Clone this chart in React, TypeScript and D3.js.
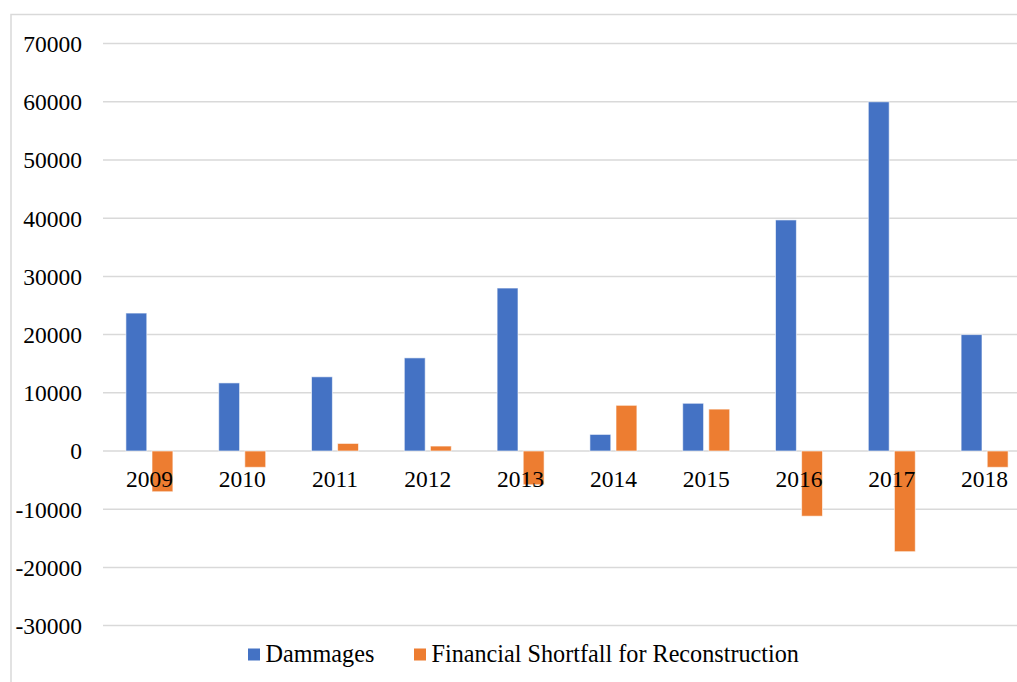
import React, { useEffect, useRef } from 'react';
import * as d3 from 'd3';

// Chart data
const years = ['2009', '2010', '2011', '2012', '2013', '2014', '2015', '2016', '2017', '2018'];
const dammages = [23700, 11700, 12750, 16000, 28000, 2850, 8200, 39700, 60000, 20000];
const shortfall = [-7000, -2800, 1300, 850, -5800, 7850, 7200, -11200, -17300, -2800];
const yTicks = [70000, 60000, 50000, 40000, 30000, 20000, 10000, 0, -10000, -20000, -30000];
const seriesNames = ['Dammages', 'Financial Shortfall for Reconstruction'];
const seriesColors = ['#4472C4', '#ED7D31'];

const App = () => {
  const svgRef = useRef(null);

  useEffect(() => {
    const width = 1017;
    const height = 682;
    const font = '"Liberation Serif", "Times New Roman", serif';

    const svg = d3.select(svgRef.current);
    svg.selectAll('*').remove();
    svg.attr('width', width).attr('height', height);

    svg.append('rect')
      .attr('width', width)
      .attr('height', height)
      .attr('fill', '#ffffff');

    // outer chart border (cropped on the right and bottom)
    svg.append('path')
      .attr('d', `M11,${height + 5} L11,14.5 L${width + 5},14.5`)
      .attr('fill', 'none')
      .attr('stroke', '#d9d9d9')
      .attr('stroke-width', 1.5);

    // scales
    const plotLeft = 103;
    const step = 92.8;
    const x0 = d3.scaleBand()
      .domain(years)
      .range([plotLeft, plotLeft + step * years.length])
      .padding(0);

    const groupW = 47;
    const x1 = d3.scaleBand()
      .domain(seriesNames)
      .range([x0.bandwidth() / 2 - groupW / 2, x0.bandwidth() / 2 + groupW / 2])
      .paddingInner(0.2)
      .paddingOuter(0);

    const y = d3.scaleLinear()
      .domain([-30000, 70000])
      .range([625.6, 43.6]);

    // gridlines
    svg.append('g')
      .selectAll('line')
      .data(yTicks)
      .enter()
      .append('line')
      .attr('x1', plotLeft)
      .attr('x2', width + 5)
      .attr('y1', d => y(d))
      .attr('y2', d => y(d))
      .attr('stroke', '#d9d9d9')
      .attr('stroke-width', 1.5);

    // y labels
    svg.append('g')
      .selectAll('text')
      .data(yTicks)
      .enter()
      .append('text')
      .attr('x', 82)
      .attr('y', d => y(d) + 8.3)
      .attr('text-anchor', 'end')
      .attr('font-family', font)
      .attr('font-size', '23.5px')
      .attr('fill', '#000')
      .text(d => String(d));

    // bars
    const rows = years.map((yr, i) => ({ year: yr, values: [dammages[i], shortfall[i]] }));
    const groups = svg.append('g')
      .selectAll('g')
      .data(rows)
      .enter()
      .append('g')
      .attr('transform', d => `translate(${x0(d.year)},0)`);

    groups.selectAll('rect')
      .data(d => d.values.map((v, k) => ({ key: seriesNames[k], value: v, color: seriesColors[k] })))
      .enter()
      .append('rect')
      .attr('x', d => x1(d.key))
      .attr('width', x1.bandwidth())
      .attr('y', d => y(Math.max(0, d.value)))
      .attr('height', d => Math.abs(y(d.value) - y(0)))
      .attr('fill', d => d.color)
      .attr('stroke', '#ffffff')
      .attr('stroke-opacity', 0.6)
      .attr('stroke-width', 1);

    // category labels (drawn on top of bars)
    svg.append('g')
      .selectAll('text')
      .data(years)
      .enter()
      .append('text')
      .attr('x', d => x0(d) + x0.bandwidth() / 2)
      .attr('y', 487)
      .attr('text-anchor', 'middle')
      .attr('font-family', font)
      .attr('font-size', '23.5px')
      .attr('fill', '#000')
      .text(d => d);

    // legend
    const legendX = [248, 414];
    const legend = svg.append('g');
    seriesNames.forEach((name, i) => {
      legend.append('rect')
        .attr('x', legendX[i])
        .attr('y', 648.5)
        .attr('width', 12)
        .attr('height', 12)
        .attr('fill', seriesColors[i]);
      legend.append('text')
        .attr('x', legendX[i] + 17.5)
        .attr('y', 662)
        .attr('font-family', font)
        .attr('font-size', '24.2px')
        .attr('fill', '#000')
        .text(name);
    });
  }, []);

  return (
    <div style={{ position: 'absolute', left: 0, top: 0 }}>
      <svg ref={svgRef} style={{ display: 'block' }}></svg>
    </div>
  );
};

export default App;
